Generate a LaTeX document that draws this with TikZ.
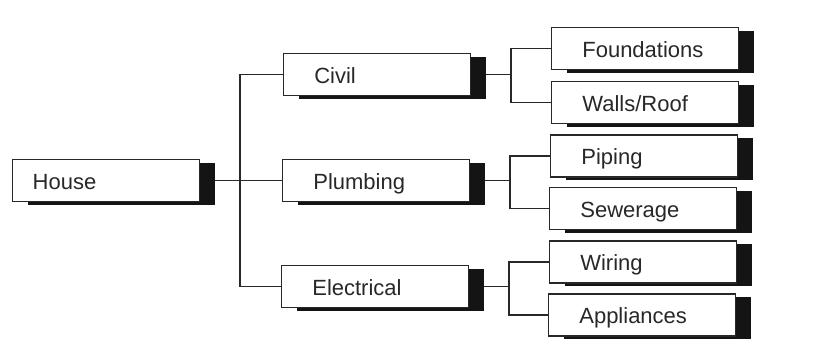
\documentclass[tikz,border=0pt]{standalone}
\usepackage{fontspec}
\setmainfont{Liberation Sans}
\usepackage{tikz}
\usetikzlibrary{shadows,calc}
\definecolor{myink}{RGB}{40,40,40}
\definecolor{myshade}{RGB}{20,20,20}

\begin{document}
\begin{tikzpicture}[x=0.75pt, y=-0.75pt,
    box/.style={draw=myink, line width=0.8pt, fill=white, text=myink,
      minimum width=140pt, minimum height=31.5pt, inner xsep=23pt,
      text width=94pt, align=left, text height=13.3pt, text depth=0pt,
      font=\fontsize{16.5}{19}\selectfont,
      general shadow={fill=myshade, shadow xshift=11.5pt, shadow yshift=-2.5pt}},
    root/.style={box, inner xsep=15pt, text width=110pt},
    link/.style={draw=myink, line width=1pt}]
  \useasboundingbox (0,0) rectangle (830,347);
  % Top level
  \node[root] (house) at (106,180.5) {House};
  % Trades
  \node[box] (civil)  at (377,74.5)  {Civil};
  \node[box] (plumb)  at (376,180.5) {Plumbing};
  \node[box] (elec)   at (375,286.5) {Electrical};
  % Work packages
  \foreach \name/\lbl/\x/\y in {found/Foundations/645/48.5, walls/Walls\slash Roof/645/102.5,
      piping/Piping/644/156, sewer/Sewerage/643/208.5,
      wiring/Wiring/643/262, appl/Appliances/642/315}{
    \node[box] (\name) at (\x,\y) {\lbl};
  }
  % Connectors
  \foreach \p/\c in {house/civil, house/plumb, house/elec,
      civil/found, civil/walls, plumb/piping, plumb/sewer,
      elec/wiring, elec/appl}{
    \draw[link] ([xshift=11pt]\p.east) -- ++(19pt,0) |- (\c.west);
  }
\end{tikzpicture}
\end{document}
